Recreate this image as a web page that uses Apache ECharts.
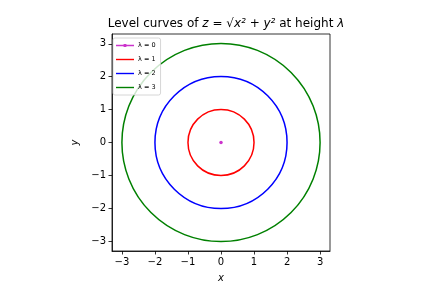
<!DOCTYPE html>
<html>
<head>
<meta charset="utf-8">
<script src="https://cdn.jsdelivr.net/npm/echarts@6/dist/echarts.min.js"></script>
<style>html,body{margin:0;padding:0;background:#fff}#c{width:432px;height:288px}</style>
</head>
<body>
<div id="c"></div>
<script>
// Data
const levels = [0, 1, 2, 3];
const levelNames = ['λ = 0', 'λ = 1', 'λ = 2', 'λ = 3'];
const tickValues = [-3, -2, -1, 0, 1, 2, 3];
const axisRange = [-3.3, 3.3];

const colors = ['#bf00bf', '#ff0000', '#0000ff', '#008000'];
const FONT = 'DejaVu Sans';
const fmt = v => String(v).replace('-', '\u2212');

const lineIcon = 'path://M0,0L0,0M0,1.3L18,1.3L18,2.7L0,2.7ZM18,4L18,4';
const dotIcon = 'path://M0,0L0,0M0,1.3L18,1.3L18,2.7L0,2.7ZM7.6,0.6L10.4,0.6L10.4,3.4L7.6,3.4ZM18,4L18,4';

function circleRenderer(color) {
  return function (params, api) {
    const c = api.coord([api.value(0), api.value(1)]);
    const s = api.size([api.value(2), api.value(2)]);
    return {
      type: 'circle',
      shape: { cx: c[0], cy: c[1], r: s[0] },
      style: { fill: 'none', stroke: color, lineWidth: 1.5 }
    };
  };
}

const series = levels.map((lv, i) => {
  if (lv === 0) {
    return {
      name: levelNames[i], type: 'scatter',
      data: [[0, 0]], symbol: 'circle', symbolSize: 3.5,
      itemStyle: { color: colors[i] }, silent: true
    };
  }
  return {
    name: levelNames[i], type: 'custom',
    data: [[0, 0, lv]],
    renderItem: circleRenderer(colors[i]),
    itemStyle: { color: colors[i] },
    silent: true, clip: true
  };
});

const axisCommon = {
  type: 'value', min: axisRange[0], max: axisRange[1],
  splitLine: { show: false },
  axisLine: { show: true, onZero: false, lineStyle: { color: '#000', width: 0.8 } },
  axisTick: { show: true, customValues: tickValues, length: 3.5, lineStyle: { color: '#000', width: 0.8 } },
  axisLabel: { customValues: tickValues, formatter: fmt, color: '#000', fontSize: 10, fontFamily: FONT, margin: 6 },
  nameLocation: 'middle',
  nameTextStyle: { color: '#000', fontSize: 10, fontFamily: FONT, fontStyle: 'italic' }
};

const chart = echarts.init(document.getElementById('c'), null, { renderer: 'canvas' });
chart.setOption({
  animation: false,
  title: {
    text: '{n|Level curves of }{i|z}{n| = √}{i|x² + y²}{n| at height }{i|λ}',
    left: 221, top: 13, textAlign: 'center',
    textStyle: {
      fontSize: 12, fontFamily: FONT, color: '#000', fontWeight: 'normal',
      rich: {
        n: { fontSize: 12, fontFamily: FONT, color: '#000' },
        i: { fontSize: 12, fontFamily: FONT, color: '#000', fontStyle: 'italic' }
      }
    }
  },
  grid: {
    left: 112, right: 102, top: 34, bottom: 36,
    show: true, borderColor: '#000', borderWidth: 0.8, backgroundColor: '#fff'
  },
  xAxis: Object.assign({}, axisCommon, { name: 'x', nameGap: 22 }),
  yAxis: Object.assign({}, axisCommon, { name: 'y', nameGap: 30 }),
  legend: {
    orient: 'vertical', left: 113, top: 38,
    itemWidth: 18, itemHeight: 4, itemGap: 7,
    symbolKeepAspect: false,
    padding: [4, 5, 4, 3],
    backgroundColor: 'rgba(255,255,255,0.8)', borderColor: '#cccccc', borderWidth: 0.8, borderRadius: 2,
    textStyle: { fontSize: 6.5, fontFamily: FONT, color: '#000', padding: [0, 0, 0, -1] },
    data: levelNames.map((n, i) => ({ name: n, icon: i === 0 ? dotIcon : lineIcon, itemStyle: { color: colors[i] } }))
  },
  series: series
});
</script>
</body>
</html>
